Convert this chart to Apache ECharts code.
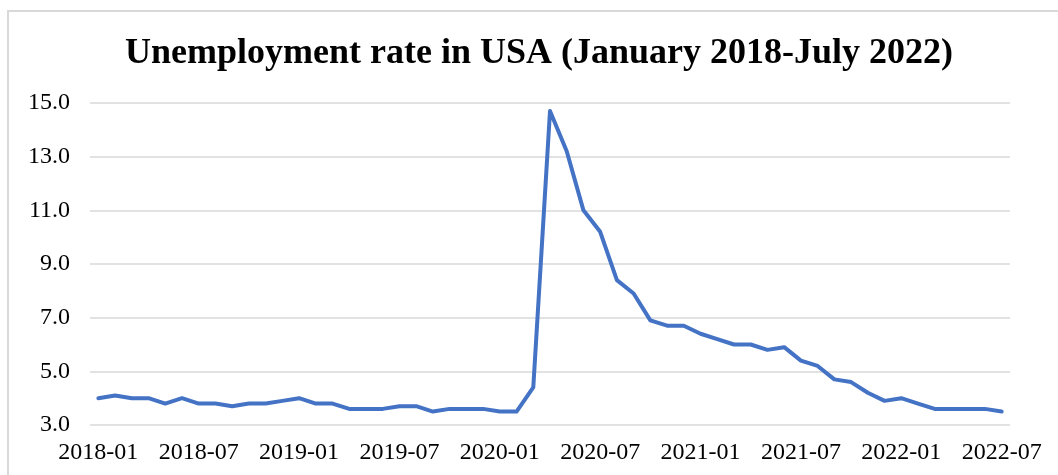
<!DOCTYPE html>
<html>
<head>
<meta charset="utf-8">
<script src="https://cdn.jsdelivr.net/npm/echarts@6/dist/echarts.min.js"></script>
<style>
html,body{margin:0;padding:0;background:#fff;}
#c{width:1058px;height:475px;}
</style>
</head>
<body>
<div id="c"></div>
<script>
const titleText = 'Unemployment rate in USA (January 2018-July 2022)';
const months = [
 '2018-01','2018-02','2018-03','2018-04','2018-05','2018-06','2018-07','2018-08','2018-09','2018-10','2018-11','2018-12',
 '2019-01','2019-02','2019-03','2019-04','2019-05','2019-06','2019-07','2019-08','2019-09','2019-10','2019-11','2019-12',
 '2020-01','2020-02','2020-03','2020-04','2020-05','2020-06','2020-07','2020-08','2020-09','2020-10','2020-11','2020-12',
 '2021-01','2021-02','2021-03','2021-04','2021-05','2021-06','2021-07','2021-08','2021-09','2021-10','2021-11','2021-12',
 '2022-01','2022-02','2022-03','2022-04','2022-05','2022-06','2022-07'
];
const rate = [
 4.0,4.1,4.0,4.0,3.8,4.0,3.8,3.8,3.7,3.8,3.8,3.9,
 4.0,3.8,3.8,3.6,3.6,3.6,3.7,3.7,3.5,3.6,3.6,3.6,
 3.5,3.5,4.4,14.7,13.2,11.0,10.2,8.4,7.9,6.9,6.7,6.7,
 6.4,6.2,6.0,6.0,5.8,5.9,5.4,5.2,4.7,4.6,4.2,3.9,
 4.0,3.8,3.6,3.6,3.6,3.6,3.5
];
const yMin = 3, yMax = 15, yStep = 2;

const serif = '"Liberation Serif","Times New Roman",serif';
const chart = echarts.init(document.getElementById('c'));
chart.setOption({
  backgroundColor:'#ffffff',
  animation:false,
  graphic:[{
    type:'rect', shape:{x:8,y:11,width:1100,height:520},
    style:{fill:'none',stroke:'#d9d9d9',lineWidth:2}, silent:true, z:-1
  },{
    type:'text', x:539, y:54, silent:true,
    style:{text:titleText, align:'center', verticalAlign:'middle',
      font:'bold 36px ' + serif, fill:'#000'}
  }],
  grid:{left:90,right:48,top:103,bottom:50,containLabel:false},
  xAxis:{
    type:'category', data:months, boundaryGap:true,
    axisLine:{show:false}, axisTick:{show:false},
    axisLabel:{interval:5, margin:16, fontFamily:serif, fontSize:24, color:'#000'},
    splitLine:{show:false}
  },
  yAxis:{
    type:'value', min:yMin, max:yMax, interval:yStep,
    axisLine:{show:false}, axisTick:{show:false},
    axisLabel:{margin:20, fontFamily:serif, fontSize:24, color:'#000',
      formatter:v=>v.toFixed(1)},
    splitLine:{show:true, lineStyle:{color:'#d9d9d9', width:1.5}}
  },
  series:[{
    type:'line', data:rate, showSymbol:false, symbol:'none', smooth:false,
    lineStyle:{color:'#4472C4', width:4, cap:'round', join:'round'}
  }]
});
</script>
</body>
</html>
